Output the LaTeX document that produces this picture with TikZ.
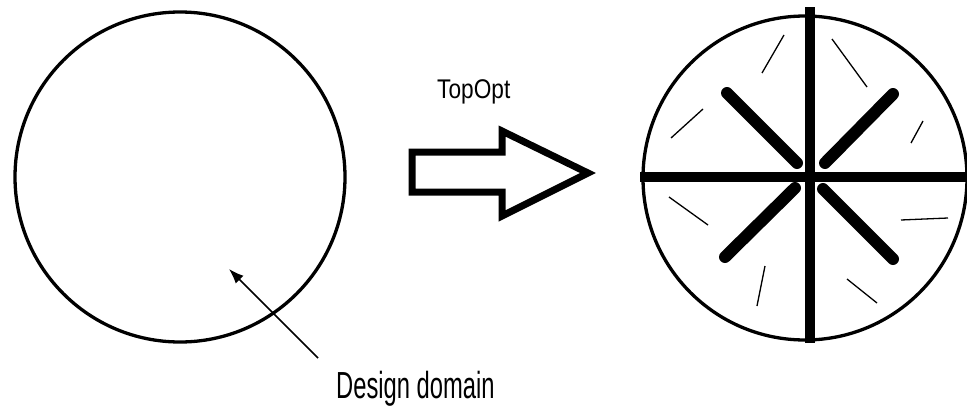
\documentclass[tikz,border=0pt]{standalone}
\usepackage{fontspec}
\setmainfont{Liberation Sans}
\usetikzlibrary{arrows.meta}
\tikzset{
  diskshape/.style={circle,draw,line width=3.3pt,inner sep=0pt},
  barline/.style={line width=10pt,line cap=butt},
  diagline/.style={line width=12pt,line cap=round},
  memberline/.style={line width=1.3pt},
  blockarrow/.style={line width=7pt,line join=miter},
  pointerline/.style={line width=1.5pt,-{Latex[length=15pt,width=11pt]}},
  lbltext/.style={inner sep=0pt,anchor=base west}
}
\begin{document}
\begin{tikzpicture}[x=1pt,y=-1pt]
\useasboundingbox (0,0) rectangle (967,407);
% left design domain
\node[diskshape,minimum size=330pt] (dd) at (180,177) {};
% label and pointer
\node[lbltext] (lab) at (336,398) {\fontsize{37.7pt}{40pt}\selectfont\scalebox{0.63}[1]{Design domain}};
\coordinate (pstart) at (318,358);
\coordinate (ptip) at (229,269);
\draw[pointerline] (pstart) -- (ptip);
% TopOpt label and block arrow
\node[lbltext] (top) at (437,98) {\fontsize{27pt}{29pt}\selectfont\scalebox{0.84}[1]{TopOpt}};
\draw[blockarrow] (412,152) -- (502,152) -- (502,131) -- (588,173) -- (502,216) -- (502,192) -- (412,192) -- cycle;
% right optimized result
\node[diskshape,minimum size=324pt] (res) at (805,178) {};
\draw[barline] (810,7) -- (810,343);
\draw[barline] (640,177) -- (967,177);
\draw[diagline] (727,93) -- (797,163);
\draw[diagline] (893,94) -- (825,163);
\draw[diagline] (795,188) -- (725,257);
\draw[diagline] (823,189) -- (893,259);
% thin members
\draw[memberline] (762,73) -- (784,35);
\draw[memberline] (832,39) -- (867,87);
\draw[memberline] (671,138) -- (703,109);
\draw[memberline] (911,143) -- (923,121);
\draw[memberline] (669,197) -- (708,225);
\draw[memberline] (901,220) -- (948,218);
\draw[memberline] (757,306) -- (765,266);
\draw[memberline] (847,279) -- (877,303);
\end{tikzpicture}
\end{document}
